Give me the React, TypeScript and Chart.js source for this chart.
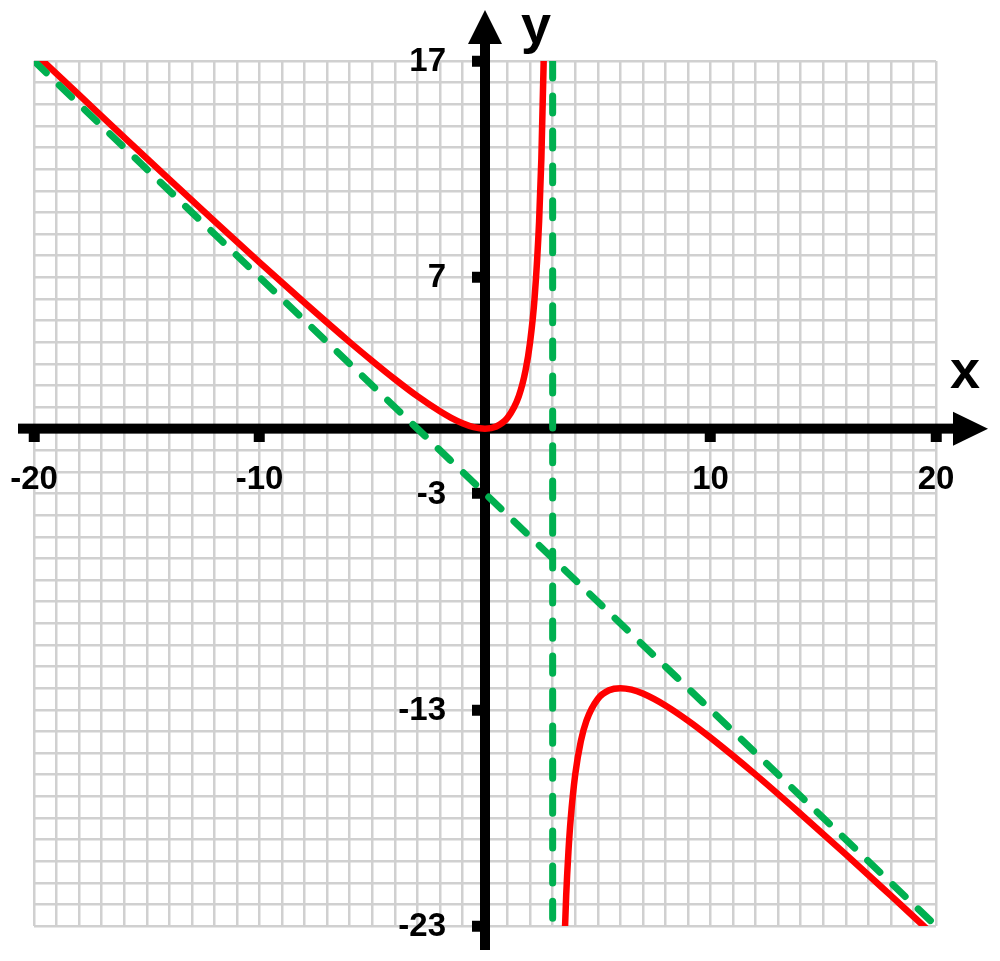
import React, { useEffect, useRef } from "react";
import { Chart, registerables } from "chart.js";

Chart.register(...registerables);

// curve, branch left of the pole at x = 3
const leftX = [-20, -18, -16, -14, -12, -10, -8, -6, -5, -4, -3, -2, -1.5, -1, -0.5, 0, 0.5, 1, 1.5, 1.8, 2, 2.2, 2.4, 2.5, 2.6, 2.65];
const leftY = [17.39, 15.43, 13.47, 11.53, 9.6, 7.69, 5.82, 4, 3.13, 2.29, 1.5, 0.8, 0.5, 0.25, 0.07, 0, 0.1, 0.5, 1.5, 2.7, 4, 6.05, 9.6, 12.5, 16.9, 20.06];

// branch right of the pole
const rightX = [3.5, 3.6, 3.7, 3.8, 4, 4.25, 4.5, 5, 5.5, 6, 6.5, 7, 8, 9, 10, 12, 14, 16, 18, 19, 20];
const rightY = [-24.5, -21.6, -19.56, -18.05, -16, -14.45, -13.5, -12.5, -12.1, -12, -12.07, -12.25, -12.8, -13.5, -14.29, -16, -17.82, -19.69, -21.6, -22.56, -23.53];

// asymptotes
const slantX = [-20, 20];
const slantY = [17, -23];
const poleX = [3, 3];
const poleY = [17, -23];

const xTickLabels = [-20, -10, 10, 20];
const yTickLabels = [17, 7, -3, -13, -23];

const GRID = "#d0d0d0";
const RED = "#ff0000";
const GREEN = "#00b050";
const FONT = "'Liberation Sans', Arial, sans-serif";

const toPoints = (xs: number[], ys: number[]) => xs.map((x, i) => ({ x, y: ys[i] }));

const isLabel = (list: number[], v: number) =>
	Math.abs(v - Math.round(v)) < 1e-6 && list.includes(Math.round(v));

// black axes through the origin, arrow heads, tick labels and the x / y letters
const axesPlugin = {
	id: "axesArrows",
	beforeDatasetsDraw(chart: any) {
		const { ctx, chartArea, scales } = chart;
		const x0 = scales.x.getPixelForValue(0);
		const y0 = scales.y.getPixelForValue(0);
		const tipTop = chartArea.top - 51;
		const tipRight = chartArea.right + 52;

		ctx.save();
		ctx.fillStyle = "#000";
		ctx.fillRect(x0 - 5, tipTop + 30, 10, chartArea.bottom + 24 - (tipTop + 30));
		ctx.fillRect(chartArea.left - 16, y0 - 5, tipRight - 30 - (chartArea.left - 16), 10);

		ctx.beginPath();
		ctx.moveTo(x0, tipTop);
		ctx.lineTo(x0 + 17, tipTop + 34);
		ctx.lineTo(x0 - 17, tipTop + 34);
		ctx.closePath();
		ctx.fill();

		ctx.beginPath();
		ctx.moveTo(tipRight, y0);
		ctx.lineTo(tipRight - 35, y0 - 17);
		ctx.lineTo(tipRight - 35, y0 + 17);
		ctx.closePath();
		ctx.fill();

		ctx.font = `bold 33px ${FONT}`;
		ctx.textBaseline = "middle";
		ctx.textAlign = "center";
		xTickLabels.forEach(v => {
			ctx.fillText(String(v), scales.x.getPixelForValue(v), y0 + 51);
		});
		ctx.textAlign = "right";
		yTickLabels.forEach(v => {
			ctx.fillText(String(v), x0 - 39, scales.y.getPixelForValue(v) + 1);
		});

		ctx.font = `bold 54px ${FONT}`;
		ctx.textAlign = "center";
		ctx.textBaseline = "alphabetic";
		ctx.fillText("x", tipRight - 23, y0 - 41);
		ctx.fillText("y", x0 + 51, tipTop + 33);
		ctx.restore();
	},
};

export default function App() {
	const canvasRef = useRef<HTMLCanvasElement>(null);

	useEffect(() => {
		document.body.style.margin = "0";
		if (!canvasRef.current) return;

		const lineStyle = {
			pointRadius: 0,
			fill: false,
			clip: 0,
			cubicInterpolationMode: "monotone",
		};

		const gridFor = (labels: number[]) => ({
			color: GRID,
			lineWidth: 2.5,
			tickLength: 13,
			tickWidth: 11,
			tickColor: (c: any) =>
				c.tick && isLabel(labels, c.tick.value) ? "#000" : "rgba(0,0,0,0)",
		});

		const chart = new Chart(canvasRef.current, {
			type: "line",
			data: {
				datasets: [
					{
						...lineStyle,
						data: toPoints(slantX, slantY),
						borderColor: GREEN,
						borderWidth: 7,
						borderDash: [17, 18],
						borderCapStyle: "round",
					},
					{
						...lineStyle,
						data: toPoints(poleX, poleY),
						borderColor: GREEN,
						borderWidth: 7,
						borderDash: [17, 18],
						borderCapStyle: "round",
					},
					{
						...lineStyle,
						data: toPoints(leftX, leftY),
						borderColor: RED,
						borderWidth: 6.5,
					},
					{
						...lineStyle,
						data: toPoints(rightX, rightY),
						borderColor: RED,
						borderWidth: 6.5,
					},
				],
			},
			options: {
				animation: false,
				responsive: true,
				maintainAspectRatio: false,
				layout: { padding: { left: 34, top: 61, right: 64, bottom: 35 } },
				plugins: {
					legend: { display: false },
					tooltip: { enabled: false },
				},
				scales: {
					x: {
						type: "linear",
						min: -20,
						max: 20,
						position: { y: 0 },
						border: { display: false },
						grid: gridFor(xTickLabels),
						ticks: { stepSize: 1, autoSkip: false, display: false },
					},
					y: {
						type: "linear",
						min: -23,
						max: 17,
						position: { x: 0 },
						border: { display: false },
						grid: gridFor(yTickLabels),
						ticks: { stepSize: 1, autoSkip: false, display: false },
					},
				},
			},
			plugins: [axesPlugin],
		} as any);

		return () => chart.destroy();
	}, []);

	return (
		<div style={{ width: 1000, height: 961, position: "relative" }}>
			<canvas ref={canvasRef} />
		</div>
	);
}
